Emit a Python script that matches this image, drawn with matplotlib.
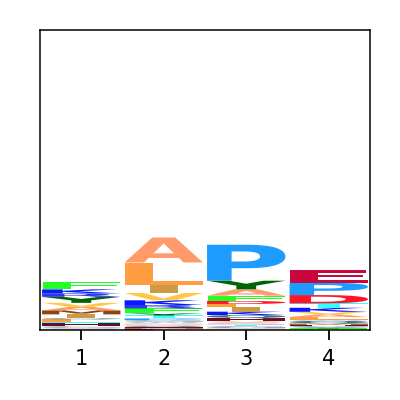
import matplotlib
matplotlib.use("Agg")
import matplotlib.pyplot as plt
from matplotlib.textpath import TextPath
from matplotlib.patches import PathPatch
from matplotlib.font_manager import FontProperties
from matplotlib.transforms import Affine2D

# ---- data (bits), listed bottom -> top for each position ----
positions = [1, 2, 3, 4]

col1_letters = ["W", "S", "G", "C", "H", "T", "L", "Q", "I", "M", "A", "V", "Y", "R", "K", "F"]
col1_heights = [0.012, 0.012, 0.017, 0.012, 0.043, 0.014, 0.043, 0.014, 0.058, 0.058, 0.050, 0.058, 0.086, 0.050, 0.058, 0.109]

col2_letters = ["C", "E", "D", "M", "H", "Q", "S", "N", "W", "G", "P", "T", "Y", "F", "R", "K", "V", "I", "L", "A"]
col2_heights = [0.006, 0.006, 0.008, 0.010, 0.012, 0.014, 0.020, 0.020, 0.022, 0.026, 0.022, 0.043, 0.029, 0.072, 0.050, 0.068, 0.104, 0.109, 0.331, 0.360]

col3_letters = ["W", "N", "G", "T", "S", "V", "H", "Q", "K", "I", "L", "D", "F", "A", "Y", "P"]
col3_heights = [0.010, 0.014, 0.033, 0.014, 0.039, 0.019, 0.039, 0.048, 0.048, 0.063, 0.048, 0.043, 0.076, 0.092, 0.124, 0.518]

col4_letters = ["C", "F", "Y", "G", "H", "M", "Q", "W", "L", "A", "V", "K", "T", "D", "P", "E"]
col4_heights = [0.010, 0.014, 0.014, 0.020, 0.017, 0.017, 0.039, 0.012, 0.043, 0.039, 0.037, 0.058, 0.063, 0.120, 0.177, 0.181]

stacks = [
    (col1_letters, col1_heights),
    (col2_letters, col2_heights),
    (col3_letters, col3_heights),
    (col4_letters, col4_heights),
]

colors = {
    "A": "#FF9A6A", "C": "#B8A070", "D": "#FF1428", "E": "#C8083C",
    "F": "#22FF22", "G": "#8FA5BF", "H": "#6B0A2A", "I": "#CC9944",
    "K": "#0A18FF", "L": "#FF9D42", "M": "#8B4513", "N": "#E8E090",
    "P": "#1E9BFF", "Q": "#3F6F72", "R": "#2A3AE8", "S": "#D8AEE8",
    "T": "#33FFFF", "V": "#FFC844", "W": "#A8C8EC", "Y": "#006400",
}

fig = plt.figure(figsize=(4, 4), dpi=100)
ax = fig.add_axes([0.1, 0.175, 0.825, 0.75])

prop = FontProperties(family="DejaVu Sans", weight="bold")
width = 0.95

_ref_bb = TextPath((0, 0), "E", size=1, prop=prop).get_extents()
max_hstretch = width / _ref_bb.width


def draw_glyph(ax, letter, x, y0, h, color):
    tp = TextPath((0, 0), letter, size=1, prop=prop)
    bb = tp.get_extents()
    hs = min(width / bb.width, max_hstretch)
    shift = (width - bb.width * hs) / 2.0
    tr = (Affine2D()
          .translate(-bb.x0, -bb.y0)
          .scale(hs, h / bb.height)
          .translate(x - width / 2 + shift, y0))
    path = tr.transform_path(tp)
    ax.add_patch(PathPatch(path, facecolor=color, edgecolor="none", lw=0))


for pos, (lets, hts) in zip(positions, stacks):
    y = 0.0
    for L, h in zip(lets, hts):
        draw_glyph(ax, L, pos, y, h, colors[L])
        y += h

ax.set_xlim(0.5, 4.5)
ax.set_ylim(0, 4.32)
ax.set_xticks(positions)
ax.set_xticklabels([str(p) for p in positions], fontsize=15)
ax.set_yticks([])
for s in ax.spines.values():
    s.set_linewidth(1.1)
ax.tick_params(axis="x", length=7, width=1.3, pad=6.5)

fig.savefig("out.png", dpi=100)
